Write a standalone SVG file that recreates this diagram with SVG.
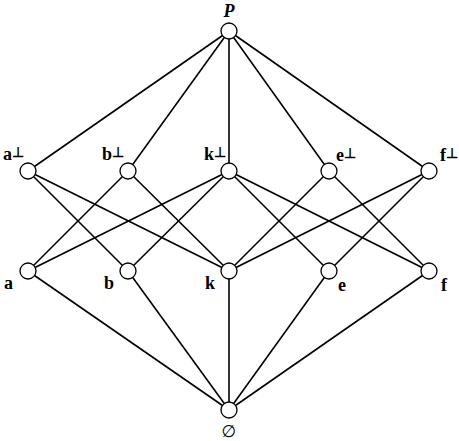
<svg xmlns="http://www.w3.org/2000/svg" width="459" height="441" viewBox="0 0 459 441">
<style>
.e{stroke:#000;stroke-width:1.6;fill:none}
.n{fill:#fff;stroke:#000;stroke-width:1.3}
.t{font-family:"Liberation Serif",serif;font-weight:bold;font-size:18px;fill:#000}
.s{font-size:14px}
</style>
<rect width="459" height="441" fill="#fff"/>
<g id="connectors" class="e">
<line x1="229" y1="31" x2="28" y2="171"/>
<line x1="229" y1="31" x2="128" y2="171"/>
<line x1="229" y1="31" x2="229" y2="171"/>
<line x1="229" y1="31" x2="329" y2="171"/>
<line x1="229" y1="31" x2="429" y2="171"/>
<line x1="28" y1="171" x2="128" y2="271"/>
<line x1="28" y1="171" x2="229" y2="271"/>
<line x1="128" y1="171" x2="28" y2="271"/>
<line x1="128" y1="171" x2="229" y2="271"/>
<line x1="229" y1="171" x2="28" y2="271"/>
<line x1="229" y1="171" x2="128" y2="271"/>
<line x1="229" y1="171" x2="329" y2="271"/>
<line x1="229" y1="171" x2="429" y2="271"/>
<line x1="329" y1="171" x2="229" y2="271"/>
<line x1="329" y1="171" x2="429" y2="271"/>
<line x1="429" y1="171" x2="229" y2="271"/>
<line x1="429" y1="171" x2="329" y2="271"/>
<line x1="28" y1="271" x2="229" y2="410"/>
<line x1="128" y1="271" x2="229" y2="410"/>
<line x1="229" y1="271" x2="229" y2="410"/>
<line x1="329" y1="271" x2="229" y2="410"/>
<line x1="429" y1="271" x2="229" y2="410"/>
</g>
<g id="P"><circle class="n" cx="229" cy="31" r="8"/><text class="t" x="229" y="17" text-anchor="middle" font-style="italic">P</text></g>
<g id="a_perp"><circle class="n" cx="28" cy="171" r="8"/><text class="t" x="3" y="160">a<tspan class="s" dy="-3">⊥</tspan></text></g>
<g id="b_perp"><circle class="n" cx="128" cy="171" r="8"/><text class="t" x="102" y="160">b<tspan class="s" dy="-3">⊥</tspan></text></g>
<g id="k_perp"><circle class="n" cx="229" cy="171" r="8"/><text class="t" x="204" y="160">k<tspan class="s" dy="-3">⊥</tspan></text></g>
<g id="e_perp"><circle class="n" cx="329" cy="171" r="8"/><text class="t" x="336" y="161">e<tspan class="s" dy="-3">⊥</tspan></text></g>
<g id="f_perp"><circle class="n" cx="429" cy="171" r="8"/><text class="t" x="440" y="161">f<tspan class="s" dy="-3">⊥</tspan></text></g>
<g id="a"><circle class="n" cx="28" cy="271" r="8"/><text class="t" x="4" y="289">a</text></g>
<g id="b"><circle class="n" cx="128" cy="271" r="8"/><text class="t" x="104" y="289">b</text></g>
<g id="k"><circle class="n" cx="229" cy="271" r="8"/><text class="t" x="205" y="289">k</text></g>
<g id="e"><circle class="n" cx="329" cy="271" r="8"/><text class="t" x="338" y="291">e</text></g>
<g id="f"><circle class="n" cx="429" cy="271" r="8"/><text class="t" x="441" y="291">f</text></g>
<g id="empty"><circle class="n" cx="229" cy="410" r="8"/><text x="229" y="437" text-anchor="middle" font-family="'DejaVu Sans',sans-serif" font-size="17" fill="#000">∅</text></g>
</svg>
